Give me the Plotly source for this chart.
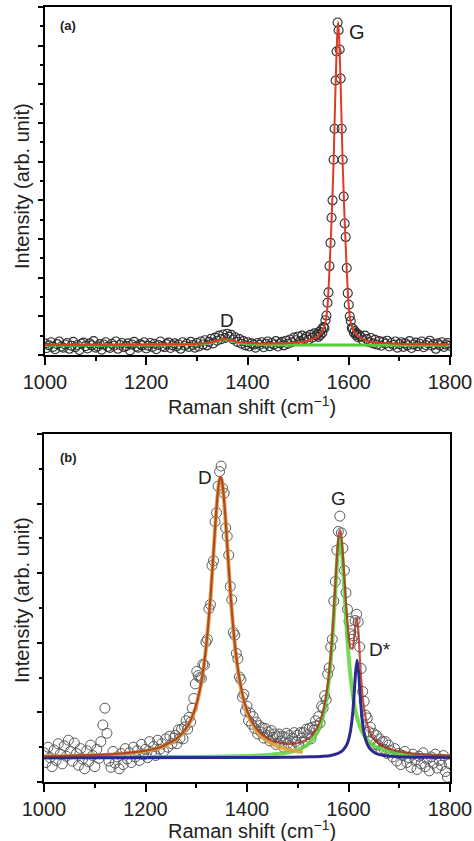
import plotly.graph_objects as go

# ---------------- Panel (a) data ----------------
a_x = [1000,1004,1008,1012,1016,1020,1024,1028,1032,1036,
       1040,1044,1048,1052,1056,1060,1064,1068,1072,1076,
       1080,1084,1088,1092,1096,1100,1104,1108,1112,1116,
       1120,1124,1128,1132,1136,1140,1144,1148,1152,1156,
       1160,1164,1168,1172,1176,1180,1184,1188,1192,1196,
       1200,1204,1208,1212,1216,1220,1224,1228,1232,1236,
       1240,1244,1248,1252,1256,1260,1264,1268,1272,1276,
       1280,1284,1288,1292,1296,
       1300,1304,1308,1312,1316,1320,1324,1328,1332,1336,
       1340,1344,1348,1352,1356,1360,1364,1368,1372,1376,
       1380,1384,1388,1392,1396,1400,1404,1408,1412,1416,1420,
       1424,1428,1432,1436,1440,1444,1448,1452,1456,1460,
       1464,1468,1472,1476,1480,1484,1488,1492,1496,1500,
       1504,1508,1512,1516,1520,1524,1528,1532,1536,
       1538,1540,1542,1544,1546,1548,1550,1552,1554,1556,
       1558,1560,1562,1564,1566,1568,1570,1572,1574,1576,
       1578,1580,1582,1584,1586,1588,1590,1592,1594,1596,
       1598,1600,1602,1604,1606,1608,1610,1612,1614,1616,
       1618,1620,
       1624,1628,1632,1636,1640,1644,1648,1652,1656,1660,
       1664,1668,1672,1676,1680,1684,1688,1692,1696,1700,
       1704,1708,1712,1716,1720,1724,1728,1732,1736,1740,
       1744,1748,1752,1756,1760,1764,1768,1772,1776,1780,
       1784,1788,1792,1796,1800]
a_y = [0.30,0.18,0.25,0.33,0.21,0.15,0.28,0.35,0.22,0.19,
       0.27,0.31,0.16,0.24,0.34,0.20,0.26,0.13,0.29,0.32,
       0.23,0.17,0.30,0.25,0.36,0.19,0.22,0.28,0.14,0.27,
       0.33,0.21,0.18,0.29,0.24,0.35,0.16,0.26,0.31,0.20,
       0.23,0.30,0.12,0.27,0.34,0.22,0.19,0.28,0.25,0.33,
       0.17,0.24,0.31,0.21,0.29,0.15,0.26,0.35,0.23,0.20,
       0.28,0.32,0.18,0.25,0.30,0.22,0.27,0.16,0.33,0.24,
       0.29,0.21,0.34,0.26,0.19,
       0.31,0.22,0.35,0.27,0.38,0.25,0.34,0.42,0.30,0.45,
       0.37,0.50,0.41,0.53,0.44,0.55,0.47,0.52,0.40,0.46,
       0.34,0.41,0.29,0.36,0.25,0.33,0.22,0.30,0.27,0.19,0.31,
       0.26,0.33,0.20,0.29,0.35,0.23,0.31,0.27,0.36,0.22,
       0.30,0.34,0.25,0.37,0.29,0.40,0.33,0.45,0.38,0.48,
       0.36,0.50,0.41,0.47,0.39,0.52,0.45,0.56,0.50,
       0.55,0.47,0.60,0.52,0.66,0.58,0.72,0.70,0.90,1.02,
       1.35,1.62,2.30,2.90,3.55,4.00,5.05,5.85,7.10,7.85,
       8.60,8.40,7.90,7.15,5.85,5.05,4.10,3.40,3.05,2.25,
       1.60,1.30,1.00,0.88,0.70,0.68,0.58,0.62,0.52,0.56,
       0.46,0.52,
       0.47,0.38,0.50,0.41,0.33,0.44,0.30,0.39,0.27,0.36,
       0.24,0.34,0.29,0.37,0.22,0.31,0.26,0.35,0.19,0.28,
       0.33,0.21,0.30,0.25,0.36,0.18,0.27,0.32,0.23,0.29,
       0.35,0.20,0.26,0.31,0.37,0.24,0.28,0.16,0.30,0.25,
       0.33,0.21,0.27,0.31,0.24]

a_fit_x = [1000,1100,1200,1250,1300,1320,1335,1345,1355,1365,1375,1390,1410,1440,
           1480,1510,1530,1540,1548,1554,1558,1562,1566,1570,1574,1577,1579,1581,
           1584,1588,1592,1596,1600,1604,1610,1620,1635,1660,1700,1750,1800]
a_fit_y = [0.26,0.265,0.27,0.275,0.285,0.31,0.35,0.39,0.41,0.39,0.35,0.325,0.305,0.30,
           0.31,0.345,0.42,0.50,0.62,0.84,1.26,2.21,3.46,4.96,7.01,8.21,8.61,8.21,
           7.01,4.96,3.46,2.21,1.26,0.84,0.62,0.48,0.37,0.32,0.29,0.275,0.27]

a_d_x = [1000,1200,1280,1300,1320,1335,1345,1355,1365,1375,1390,1410,1440,1500,1600,1800]
a_d_y = [0.255,0.258,0.27,0.28,0.30,0.34,0.38,0.40,0.38,0.34,0.30,0.28,0.266,0.259,0.256,0.255]

# ---------------- Panel (b) data ----------------
b_x = [1000,1004,1008,1012,1016,1020,1024,1028,1032,1036,
       1040,1044,1048,1052,1056,1060,1064,1068,1072,1076,
       1080,1084,1088,1092,1096,1100,1104,1108,1112,1116,
       1120,1124,1128,1132,1136,1140,1144,1148,1152,1156,
       1160,1164,1168,1172,1176,1180,1184,1188,1192,1196,
       1200,1204,1208,1212,1216,1220,1224,1228,1232,1236,
       1240,1244,1248,1252,1256,
       1259,1262,1265,1268,1271,1274,1277,1280,1283,1286,
       1289,1292,1295,1298,1301,1304,1307,1310,1313,1316,
       1319,1322,1325,1328,1331,1334,1337,1340,1343,1346,
       1349,1352,1355,1358,1361,1364,1367,1370,1373,1376,
       1379,1382,1385,1388,1391,1394,1397,1400,1403,1406,
       1409,1412,1415,1418,1421,1424,1427,1430,1433,1436,
       1439,1442,1445,1448,1451,1454,1457,1460,1463,1466,
       1469,1472,1475,1478,1481,1484,1487,1490,1493,1496,
       1499,1502,1505,1508,1511,1514,1517,1520,1523,1526,
       1529,1532,1535,1538,1541,1544,1547,1550,1553,1556,
       1559,1562,1565,1568,1571,1574,1577,1580,1583,1586,
       1589,1592,1595,1598,1601,1604,1607,1610,1613,1616,
       1619,1622,1625,1628,1631,1634,1637,1640,1643,1646,
       1649,1652,1655,1658,1661,1664,1667,1670,1673,1676,
       1679,
       1683,1687,1691,1695,1699,1703,1707,1711,1715,1719,
       1723,1727,1731,1735,1739,1743,1747,1751,1755,1759,
       1763,1767,1771,1775,1779,1783,1787,1791,1795,1799]
b_y = [0.42,0.28,0.50,0.35,0.22,0.46,0.31,0.55,0.40,0.26,
       0.52,0.37,0.60,0.44,0.30,0.56,0.41,0.24,0.48,0.33,
       0.19,0.45,0.29,0.53,0.38,0.22,0.47,0.34,0.58,0.82,
       1.06,0.70,0.30,0.21,0.44,0.27,0.36,0.19,0.41,0.25,
       0.48,0.33,0.42,0.28,0.50,0.36,0.45,0.31,0.54,0.39,
       0.47,0.35,0.58,0.43,0.51,0.38,0.60,0.47,0.55,0.44,
       0.62,0.50,0.66,0.55,0.63,
       0.67,0.55,0.75,0.63,0.76,0.62,0.79,0.88,0.76,0.93,
       0.86,1.06,1.20,1.41,1.59,1.53,1.50,1.49,1.69,1.68,
       2.01,2.05,2.49,2.55,3.11,3.18,3.74,3.87,4.25,4.46,
       4.54,4.22,4.15,3.65,3.53,3.26,2.81,2.62,2.15,2.11,
       1.85,1.77,1.51,1.47,1.22,1.26,1.02,1.09,0.88,0.99,
       0.83,0.94,0.77,0.86,0.69,0.81,0.72,0.78,0.63,0.77,
       0.67,0.72,0.59,0.74,0.64,0.69,0.54,0.65,0.69,0.58,
       0.66,0.50,0.64,0.70,0.56,0.67,0.51,0.63,0.71,0.58,
       0.67,0.53,0.71,0.63,0.71,0.58,0.76,0.68,0.77,0.62,
       0.79,0.75,0.88,0.81,0.94,0.85,1.09,1.06,1.24,1.18,
       1.55,1.64,1.94,2.05,2.60,2.88,3.33,3.60,3.82,3.58,
       3.36,3.04,2.72,2.48,2.31,2.13,2.05,2.10,2.32,2.41,
       2.30,1.94,1.63,1.30,1.16,0.96,0.92,0.72,0.79,0.61,
       0.70,0.54,0.67,0.53,0.62,0.46,0.58,0.47,0.58,0.41,
       0.53,
       0.45,0.36,0.48,0.30,0.41,0.25,0.38,0.44,0.28,0.35,
       0.21,0.40,0.31,0.18,0.37,0.26,0.42,0.22,0.33,0.16,
       0.36,0.27,0.40,0.20,0.31,0.24,0.38,0.15,0.07,0.26]

b_fit_x = [1000,1050,1100,1150,1200,1230,1260,1280,1295,1305,1315,1322,1328,1334,1339,
           1343,1346,1348,1350,1353,1357,1362,1368,1375,1383,1392,1402,1415,1430,1450,
           1470,1490,1510,1525,1540,1550,1558,1565,1570,1574,1578,1581,1583,1585,1588,
           1592,1596,1600,1604,1608,1611,1614,1617,1620,1623,1627,1632,1638,1645,1655,
           1670,1690,1720,1760,1800]
b_fit_y = [0.370,0.377,0.388,0.408,0.451,0.504,0.616,0.773,0.998,1.256,1.676,2.128,2.652,3.296,3.849,
           4.201,4.353,4.386,4.356,4.205,3.853,3.301,2.658,2.061,1.584,1.237,0.994,0.805,0.680,0.593,
           0.554,0.549,0.582,0.651,0.806,1.023,1.341,1.822,2.336,2.839,3.325,3.566,3.621,3.581,3.364,
           2.916,2.465,2.121,1.927,1.917,2.054,2.272,2.352,2.104,1.710,1.292,0.991,0.799,0.677,0.581,
           0.505,0.454,0.416,0.392,0.380]

b_d_x = [1000,1050,1100,1150,1200,1230,1260,1280,1295,1305,1315,1322,1328,1334,1339,1343,1346,
         1348,1350,1353,1357,1362,1368,1375,1383,1392,1402,1415,1430,1450,1470,1490,1510]
b_d_y = [0.368,0.374,0.384,0.404,0.445,0.497,0.607,0.763,0.987,1.244,1.664,2.115,2.639,3.283,3.836,
         4.188,4.340,4.370,4.340,4.188,3.836,3.283,2.639,2.040,1.562,1.213,0.967,0.774,0.643,0.545,
         0.488,0.453,0.429]

b_g_x = [1000,1100,1200,1300,1350,1400,1430,1450,1470,1490,1510,1525,1540,1550,1558,1565,1570,
         1574,1578,1581,1583,1585,1588,1592,1596,1600,1604,1608,1611,1614,1617,1620,1623,1627,
         1632,1638,1645,1655,1670,1690,1720,1760,1800]
b_g_y = [0.352,0.354,0.356,0.360,0.365,0.374,0.384,0.395,0.412,0.441,0.495,0.574,0.734,0.952,1.268,
         1.745,2.254,2.751,3.229,3.461,3.510,3.461,3.229,2.751,2.254,1.834,1.511,1.268,1.128,1.015,
         0.923,0.848,0.786,0.719,0.655,0.597,0.547,0.499,0.453,0.419,0.393,0.376,0.367]

b_s_x = [1000,1400,1450,1490,1525,1550,1565,1578,1588,1596,1600,1604,1608,1611,1614,1617,1620,
         1623,1627,1632,1638,1645,1655,1670,1690,1720,1760,1800]
b_s_y = [0.350,0.352,0.353,0.356,0.361,0.370,0.382,0.407,0.449,0.527,0.604,0.735,0.968,1.246,1.577,
         1.750,1.577,1.246,0.896,0.660,0.527,0.456,0.409,0.381,0.367,0.358,0.354,0.353]

x_ticks = [1000, 1200, 1400, 1600, 1800]
x_title = "Raman shift (cm<sup>−1</sup>)"
y_title = "Intensity (arb. unit)"

for xs, ys in [(a_x, a_y), (a_fit_x, a_fit_y), (a_d_x, a_d_y), (b_x, b_y), (b_fit_x, b_fit_y),
               (b_d_x, b_d_y), (b_g_x, b_g_y), (b_s_x, b_s_y)]:
    assert len(xs) == len(ys), (len(xs), len(ys))

W, H = 474, 841
FONT = "Liberation Sans, Arial, sans-serif"

def fx(p):
    return p / W

def fy(p):
    return 1 - p / H

fig = go.Figure()

# panel (a)
fig.add_trace(go.Scatter(x=a_x, y=a_y, mode="markers", xaxis="x", yaxis="y",
                         marker=dict(symbol="circle-open", size=9, color="#2e2e2e", line=dict(width=1.1))))
fig.add_trace(go.Scatter(x=a_d_x, y=a_d_y, mode="lines", xaxis="x", yaxis="y",
                         line=dict(color="#55cc3a", width=3, shape="spline", smoothing=0.8)))
fig.add_trace(go.Scatter(x=a_fit_x, y=a_fit_y, mode="lines", xaxis="x", yaxis="y",
                         line=dict(color="#dd3b22", width=2, shape="spline", smoothing=0.6)))

# panel (b)
fig.add_trace(go.Scatter(x=b_x, y=b_y, mode="markers", xaxis="x2", yaxis="y2",
                         marker=dict(symbol="circle-open", size=10, color="#5a5a5a", line=dict(width=1))))
fig.add_trace(go.Scatter(x=b_g_x, y=b_g_y, mode="lines", xaxis="x2", yaxis="y2", opacity=0.85,
                         line=dict(color="#5fd23c", width=4, shape="spline", smoothing=0.6)))
fig.add_trace(go.Scatter(x=b_d_x, y=b_d_y, mode="lines", xaxis="x2", yaxis="y2", opacity=0.9,
                         line=dict(color="#dca43e", width=4, shape="spline", smoothing=0.6)))
fig.add_trace(go.Scatter(x=b_s_x, y=b_s_y, mode="lines", xaxis="x2", yaxis="y2",
                         line=dict(color="#2c2a8e", width=3, shape="spline", smoothing=0.6)))
fig.add_trace(go.Scatter(x=b_fit_x, y=b_fit_y, mode="lines", xaxis="x2", yaxis="y2", opacity=0.8,
                         line=dict(color="#a8301c", width=2.2, shape="spline", smoothing=0.6)))

xdom_a = [fx(45), fx(450)]
xdom_b = [fx(44), fx(450)]
ydom_a = [fy(355), fy(7)]
ydom_b = [fy(782), fy(434)]

def xaxis(dom, anchor):
    return dict(domain=dom, anchor=anchor, range=[1000, 1800], tickvals=x_ticks,
                automargin=False,
                ticks="outside", ticklen=8, tickwidth=1.5, tickcolor="black",
                minor=dict(dtick=100, tick0=1000, ticks="outside", ticklen=4, tickwidth=1.5, tickcolor="black"),
                showline=True, linewidth=1.5, linecolor="black", mirror=True,
                showgrid=False, zeroline=False,
                tickfont=dict(family=FONT, size=20, color="#222"))

def yaxis(dom, anchor, top):
    return dict(domain=dom, anchor=anchor, range=[0, top], dtick=1, tick0=0,
                automargin=False,
                ticks="outside", ticklen=5, tickwidth=1.5, tickcolor="black",
                minor=dict(dtick=0.5, ticks="outside", ticklen=3, tickwidth=1.5, tickcolor="black"),
                showticklabels=False,
                showline=True, linewidth=1.5, linecolor="black", mirror=True,
                showgrid=False, zeroline=False)

def ann(text, x, y, xref="paper", yref="paper", size=19, angle=0):
    return dict(text=text, x=x, y=y, xref=xref, yref=yref, showarrow=False,
                xanchor="center", yanchor="middle", textangle=angle,
                font=dict(family=FONT, size=size, color="#222"))

annotations = [
    ann("<b>(a)</b>", fx(68), fy(25), size=13),
    ann("<b>(b)</b>", fx(68), fy(457), size=13),
    ann("G", 1616, 8.35, "x", "y", size=20),
    ann("D", 1359, 0.9, "x", "y"),
    ann("D", 1317, 4.38, "x2", "y2"),
    ann("G", 1581, 4.08, "x2", "y2"),
    ann("D*", 1663, 1.9, "x2", "y2"),
    ann(y_title, fx(22), fy(186), size=20, angle=-90),
    ann(y_title, fx(22), fy(600), size=20, angle=-90),
    ann(x_title, fx(252), fy(405), size=20),
    ann(x_title, fx(252), fy(829), size=20),
]

fig.update_layout(
    width=W, height=H, margin=dict(l=0, r=0, t=0, b=0, autoexpand=False),
    paper_bgcolor="white", plot_bgcolor="white", showlegend=False,
    xaxis=xaxis(xdom_a, "y"), yaxis=yaxis(ydom_a, "x", 9),
    xaxis2=xaxis(xdom_b, "y2"), yaxis2=yaxis(ydom_b, "x2", 5),
    annotations=annotations,
)

fig.write_html("out.html", config={"displayModeBar": False},
               post_script="document.body.style.margin='0';document.body.style.padding='0';")
